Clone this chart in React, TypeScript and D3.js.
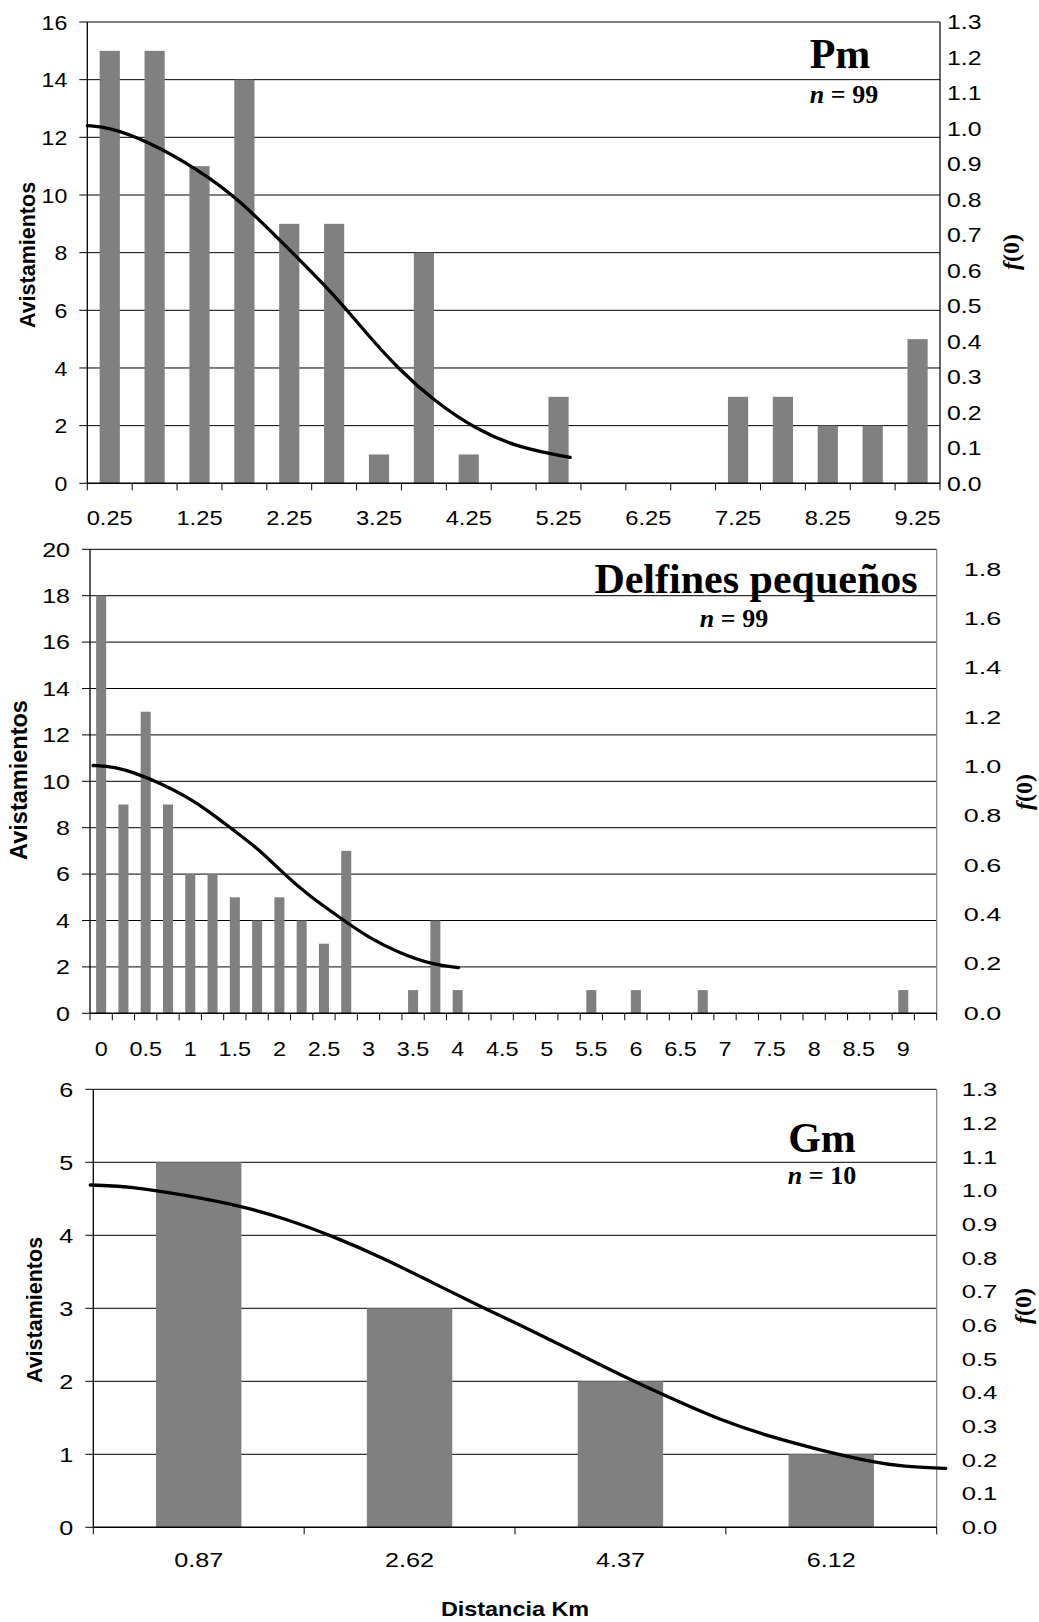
import React from 'react';
import * as d3 from 'd3';

// ---------- Panel 1: Pm ----------
const pmCategories = [0.25, 0.75, 1.25, 1.75, 2.25, 2.75, 3.25, 3.75, 4.25, 4.75, 5.25, 5.75, 6.25, 6.75, 7.25, 7.75, 8.25, 8.75, 9.25];
const pmCounts = [15, 15, 11, 14, 9, 9, 1, 8, 1, 0, 3, 0, 0, 0, 3, 3, 2, 2, 5];
const pmCurveKm = [0, 0.25, 0.66, 1.25, 1.7, 2.22, 2.74, 3.11, 3.48, 3.85, 4.34, 4.82, 5.38];
const pmCurveF = [1.008, 1.003, 0.966, 0.882, 0.798, 0.666, 0.535, 0.422, 0.319, 0.235, 0.15, 0.099, 0.073];

// ---------- Panel 2: Delfines pequeños ----------
const dpCategories = [0, 0.25, 0.5, 0.75, 1, 1.25, 1.5, 1.75, 2, 2.25, 2.5, 2.75, 3, 3.25, 3.5, 3.75, 4, 4.25, 4.5, 4.75, 5, 5.25, 5.5, 5.75, 6, 6.25, 6.5, 6.75, 7, 7.25, 7.5, 7.75, 8, 8.25, 8.5, 8.75, 9, 9.25];
const dpCounts = [18, 9, 13, 9, 6, 6, 5, 4, 5, 4, 3, 7, 0, 0, 1, 4, 1, 0, 0, 0, 0, 0, 1, 0, 1, 0, 0, 1, 0, 0, 0, 0, 0, 0, 0, 0, 1, 0];
const dpCurveKm = [-0.09, 0.14, 0.44, 0.66, 0.96, 1.19, 1.48, 1.78, 2.04, 2.34, 2.72, 2.98, 3.35, 3.73, 4.01];
const dpCurveF = [1.004, 1.0, 0.966, 0.933, 0.878, 0.824, 0.743, 0.662, 0.568, 0.473, 0.378, 0.311, 0.243, 0.196, 0.185];

// ---------- Panel 3: Gm ----------
const gmCategories = [0.87, 2.62, 4.37, 6.12];
const gmCounts = [5, 3, 2, 1];
const gmCurveKm = [-0.03, 0.33, 0.75, 1.22, 1.58, 1.99, 2.41, 2.82, 3.24, 3.54, 3.96, 4.37, 4.79, 5.2, 5.61, 6.03, 6.44, 6.72, 7.07];
const gmCurveF = [1.016, 1.011, 0.986, 0.954, 0.917, 0.863, 0.798, 0.724, 0.65, 0.6, 0.526, 0.452, 0.383, 0.318, 0.269, 0.229, 0.195, 0.18, 0.175];

const SANS = '"Liberation Sans", Arial, Helvetica, sans-serif';
const SERIF = '"Liberation Serif", "Times New Roman", Times, serif';
const BAR = '#808080';

type Cfg = {
  categories: number[];
  counts: number[];
  curveKm: number[];
  curveF: number[];
  left: number; right: number; top: number; bottom: number;
  yMax: number; yTicks: number;
  rMax: number; rTicks: number;
  pad: number;
  labelEvery: number;
  title: string; nText: string;
  titleX: number; titleY: number; nX: number; nY: number;
  leftFont: number; leftSx: number;
  bottomFont: number; bottomSx: number; bottomY: number;
  rightFont: number; rightSx: number; rightGap: number;
  rightBorder: string;
  ylabX: number; ylabY: number; ylabFont: number;
  fX: number; fY: number;
};

function SText(props: { x: number; y: number; sx: number; anchor: string; size: number; weight?: string; children: any }) {
  const { x, y, sx, anchor, size, weight, children } = props;
  return (
    <text transform={`translate(${x},${y}) scale(${sx},1)`} textAnchor={anchor as any} dy="0.36em"
      fontFamily={SANS} fontSize={size} fontWeight={weight || 'normal'} fill="#000">{children}</text>
  );
}

function Panel({ c }: { c: Cfg }) {
  const n = c.categories.length;
  const step = c.categories[1] - c.categories[0];
  const x = d3.scaleBand<number>().domain(c.categories).range([c.left, c.right]).paddingInner(c.pad).paddingOuter(c.pad / 2);
  const xk = d3.scaleLinear().domain([c.categories[0] - step / 2, c.categories[n - 1] + step / 2]).range([c.left, c.right]);
  const y = d3.scaleLinear().domain([0, c.yMax]).range([c.bottom, c.top]);
  const yr = d3.scaleLinear().domain([0, c.rMax]).range([c.bottom, c.top]);
  const pts: [number, number][] = c.curveKm.map((k, i) => [k, c.curveF[i]]);
  const line = d3.line<[number, number]>().x(d => xk(d[0])).y(d => yr(d[1])).curve(d3.curveBasis);
  const yT = y.ticks(c.yTicks);
  const rT = yr.ticks(c.rTicks);
  const fmt = d3.format('.1f');
  const boundaries = c.categories.map(v => xk(v - step / 2)).concat([xk(c.categories[n - 1] + step / 2)]);
  return (
    <g>
      {yT.filter(t => t > 0).map(t => (
        <line key={'g' + t} x1={c.left} x2={c.right} y1={y(t)} y2={y(t)} stroke="#000" strokeWidth={1} />
      ))}
      <line x1={c.right} x2={c.right} y1={c.top} y2={c.bottom} stroke={c.rightBorder} strokeWidth={1.2} />
      {c.categories.map((v, i) => c.counts[i] > 0 ? (
        <rect key={'b' + i} x={x(v)} y={y(c.counts[i])} width={x.bandwidth()} height={y(0) - y(c.counts[i])} fill={BAR} />
      ) : null)}
      <line x1={c.left} x2={c.left} y1={c.top} y2={c.bottom} stroke="#000" strokeWidth={1.3} />
      {yT.map(t => (
        <line key={'lt' + t} x1={c.left - 8} x2={c.left} y1={y(t)} y2={y(t)} stroke="#000" strokeWidth={1} />
      ))}
      {yT.map(t => (
        <SText key={'ll' + t} x={c.left - 20} y={y(t)} sx={c.leftSx} anchor="end" size={c.leftFont}>{String(t)}</SText>
      ))}
      <line x1={c.left} x2={c.right} y1={c.bottom} y2={c.bottom} stroke="#000" strokeWidth={1.5} />
      {boundaries.map((bx, i) => (
        <line key={'bt' + i} x1={bx} x2={bx} y1={c.bottom} y2={c.bottom + 7} stroke="#000" strokeWidth={1} />
      ))}
      {c.categories.map((v, i) => i % c.labelEvery === 0 ? (
        <SText key={'bl' + i} x={(x(v) as number) + x.bandwidth() / 2} y={c.bottom + c.bottomY} sx={c.bottomSx} anchor="middle" size={c.bottomFont}>{String(v)}</SText>
      ) : null)}
      {rT.map(t => (
        <SText key={'rl' + t} x={c.right + c.rightGap} y={yr(t)} sx={c.rightSx} anchor="start" size={c.rightFont}>{fmt(t)}</SText>
      ))}
      <path d={line(pts) || ''} fill="none" stroke="#000" strokeWidth={3.3} strokeLinecap="round" />
      <text x={c.titleX} y={c.titleY} textAnchor="middle" fontFamily={SERIF} fontWeight="bold" fontSize={42}>{c.title}</text>
      <text x={c.nX} y={c.nY} textAnchor="middle" fontFamily={SERIF} fontWeight="bold" fontSize={26}>
        <tspan fontStyle="italic">n</tspan>{' = ' + c.nText}
      </text>
      <text transform={`translate(${c.ylabX},${c.ylabY}) rotate(-90)`} textAnchor="middle" dy="0.36em"
        fontFamily={SANS} fontWeight="bold" fontSize={c.ylabFont}>Avistamientos</text>
      <text transform={`translate(${c.fX},${c.fY}) rotate(-90)`} textAnchor="middle" dy="0.36em"
        fontFamily={SERIF} fontWeight="bold" fontSize={24}>
        <tspan fontStyle="italic">f</tspan>(0)
      </text>
    </g>
  );
}

const panels: Cfg[] = [
  {
    categories: pmCategories, counts: pmCounts, curveKm: pmCurveKm, curveF: pmCurveF,
    left: 87.3, right: 940, top: 22, bottom: 483.3,
    yMax: 16, yTicks: 8, rMax: 1.3, rTicks: 13, pad: 0.55, labelEvery: 2,
    title: 'Pm', nText: '99', titleX: 840, titleY: 68, nX: 844, nY: 103,
    leftFont: 21, leftSx: 1.1, bottomFont: 21, bottomSx: 1.13, bottomY: 34,
    rightFont: 20, rightSx: 1.24, rightGap: 7, rightBorder: '#000',
    ylabX: 27, ylabY: 255, ylabFont: 21.5, fX: 1010, fY: 252,
  },
  {
    categories: dpCategories, counts: dpCounts, curveKm: dpCurveKm, curveF: dpCurveF,
    left: 90, right: 936.7, top: 549.3, bottom: 1013.3,
    yMax: 20, yTicks: 10, rMax: 1.88, rTicks: 9, pad: 0.55, labelEvery: 2,
    title: 'Delfines pequeños', nText: '99', titleX: 756, titleY: 593, nX: 734, nY: 627,
    leftFont: 20, leftSx: 1.25, bottomFont: 20, bottomSx: 1.17, bottomY: 35,
    rightFont: 18, rightSx: 1.5, rightGap: 27, rightBorder: '#808080',
    ylabX: 18.5, ylabY: 780, ylabFont: 23.5, fX: 1023, fY: 792,
  },
  {
    categories: gmCategories, counts: gmCounts, curveKm: gmCurveKm, curveF: gmCurveF,
    left: 93.3, right: 936.7, top: 1089.3, bottom: 1527.3,
    yMax: 6, yTicks: 6, rMax: 1.3, rTicks: 13, pad: 0.595, labelEvery: 1,
    title: 'Gm', nText: '10', titleX: 822, titleY: 1152, nX: 822, nY: 1184,
    leftFont: 21, leftSx: 1.2, bottomFont: 21, bottomSx: 1.2, bottomY: 32,
    rightFont: 19, rightSx: 1.35, rightGap: 25, rightBorder: '#808080',
    ylabX: 34, ylabY: 1310, ylabFont: 21.5, fX: 1022, fY: 1306,
  },
];

export default function App() {
  return (
    <svg width={1039} height={1622} viewBox="0 0 1039 1622"
      style={{ position: 'absolute', left: 0, top: 0, background: '#fff' }}>
      <rect x={0} y={0} width={1039} height={1622} fill="#fff" />
      {panels.map((c, i) => <Panel key={i} c={c} />)}
      <text transform="translate(515,1609) scale(1.17,1)" textAnchor="middle" dy="0.36em"
        fontFamily={SANS} fontWeight="bold" fontSize={20}>Distancia Km</text>
    </svg>
  );
}
